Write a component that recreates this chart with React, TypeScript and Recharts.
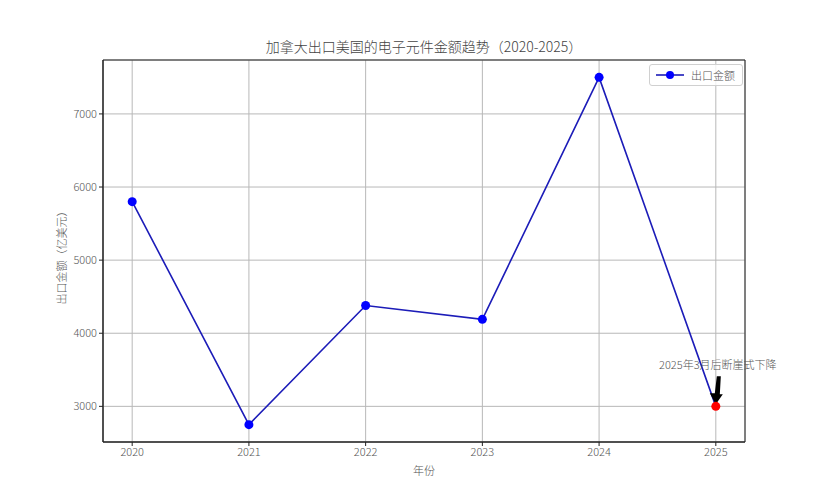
import {
  LineChart, Line, XAxis, YAxis, CartesianGrid, Legend,
  ReferenceArea, ReferenceDot
} from 'recharts';

const years = [2020, 2021, 2022, 2023, 2024, 2025];
const exportValues = [5800, 2750, 4380, 4190, 7500, 3000];
const yTicks = [3000, 4000, 5000, 6000, 7000];

const seriesName = '出口金额';
const chartTitle = '加拿大出口美国的电子元件金额趋势（2020-2025）';
const xLabel = '年份';
const yLabel = '出口金额（亿美元）';
const noteText = '2025年3月后断崖式下降';
const noteYear = 2025;
const noteValue = 3000;

const data = years.map((year, i) => ({ year, value: exportValues[i] }));

const FONT = '"Noto Sans CJK SC", "Noto Sans", sans-serif';
const TEXT = '#555';
const tickStyle = { fill: TEXT, fontSize: 11, fontFamily: FONT, fontWeight: 300 };

const LegendBox = () => (
  <div style={{
    border: '1px solid #d0d0d0', borderRadius: 3, background: 'rgba(255,255,255,0.8)',
    padding: '2px 7px 2px 5px', display: 'flex', alignItems: 'center', gap: 6,
    fontFamily: FONT, fontSize: 11, color: TEXT, fontWeight: 300,
  }}>
    <svg width={30} height={10}>
      <line x1={1} y1={5} x2={29} y2={5} stroke="#1c1cb8" strokeWidth={1.6} />
      <circle cx={15} cy={5} r={4} fill="#0000ff" />
    </svg>
    <span>{seriesName}</span>
  </div>
);

// point marker: the last point (the drop) is red
const PointDot = ({ cx, cy, index }: any) => (
  <circle key={index} cx={cx} cy={cy} r={4.5}
    fill={years[index] === noteYear ? '#ff0000' : '#0000ff'} />
);

// black arrow + note text, anchored to the marked point
const NoteArrow = ({ cx, cy }: any) => (
  <g>
    <text x={cx + 2} y={cy - 37} textAnchor="middle" fontFamily={FONT} fontSize={11}
      fontWeight={300} fill={TEXT}>{noteText}</text>
    <path
      d={`M ${cx + 1} ${cy - 30} L ${cx + 5} ${cy - 30} L ${cx + 4} ${cy - 12} L ${cx + 7} ${cy - 12} L ${cx} ${cy - 2} L ${cx - 6} ${cy - 13} L ${cx - 1} ${cy - 13} Z`}
      fill="#000"
    />
  </g>
);

export default function App() {
  return (
    <div style={{ position: 'fixed', left: 0, top: 0, width: 828, height: 497, background: '#fff' }}>
      <LineChart width={828} height={497} data={data}
        margin={{ top: 60, left: 53, right: 83, bottom: 25 }}>
        <text x={424} y={52} textAnchor="middle" fontFamily={FONT} fontSize={14}
          fontWeight={300} fill="#444">{chartTitle}</text>
        <text x={424} y={475} textAnchor="middle" fontFamily={FONT} fontSize={11}
          fontWeight={300} fill={TEXT}>{xLabel}</text>
        <text x={66} y={255} textAnchor="middle" fontFamily={FONT} fontSize={11}
          fontWeight={300} fill={TEXT} transform="rotate(-90 66 255)">{yLabel}</text>
        <CartesianGrid stroke="#b8b8b8" strokeWidth={1} />
        <XAxis dataKey="year" type="number" domain={[2019.75, 2025.25]} ticks={years}
          allowDataOverflow height={30} tickSize={4} tick={tickStyle}
          tickLine={{ stroke: '#222' }} axisLine={{ stroke: '#222' }} />
        <YAxis type="number" domain={[2512.5, 7737.5]} ticks={yTicks} allowDataOverflow
          width={50} tickSize={4} tick={tickStyle}
          tickLine={{ stroke: '#222' }} axisLine={{ stroke: '#222' }} />
        <ReferenceArea x1={2019.75} x2={2025.25} y1={2512.5} y2={7737.5}
          fill="none" stroke="#222" strokeWidth={1} ifOverflow="visible" />
        <ReferenceDot x={noteYear} y={noteValue} shape={NoteArrow} ifOverflow="visible" />
        <Line type="linear" dataKey="value" name={seriesName} stroke="#1c1cb8" strokeWidth={1.6}
          dot={PointDot} activeDot={false} isAnimationActive={false} />
        <Legend layout="vertical" align="center" verticalAlign="middle"
          content={() => <LegendBox />}
          wrapperStyle={{ position: 'absolute', left: 649, top: 64, width: 'auto', height: 'auto' }} />
      </LineChart>
    </div>
  );
}
